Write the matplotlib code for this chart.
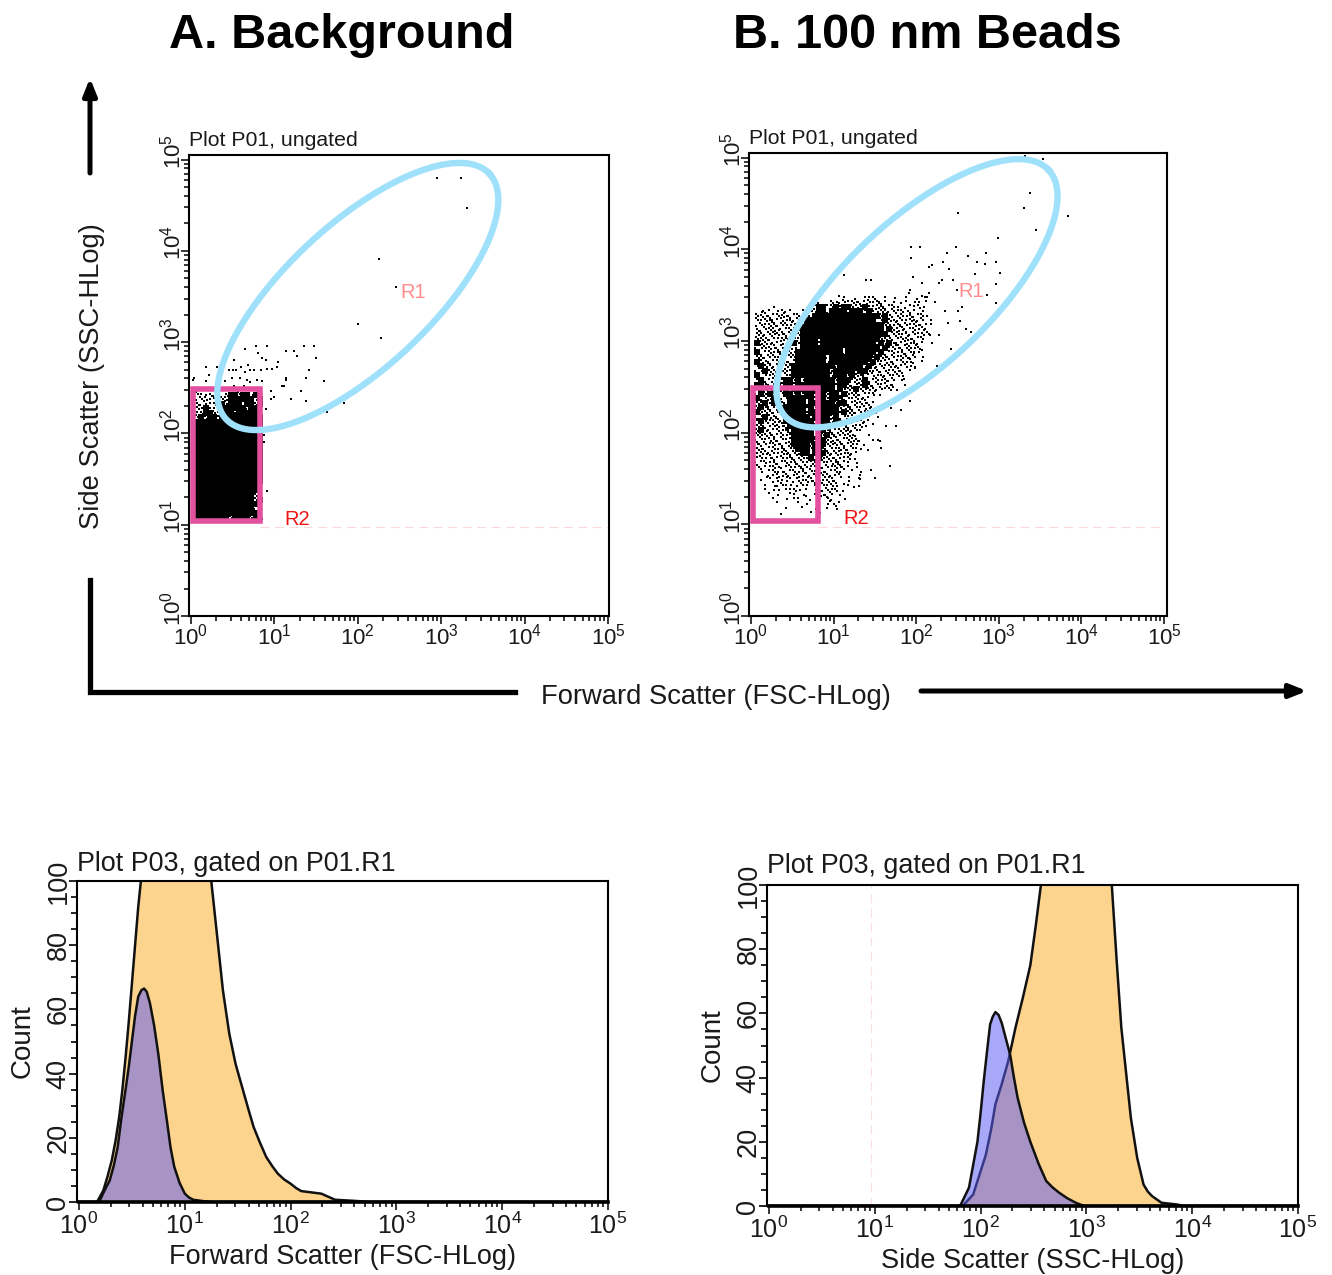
import numpy as np
import matplotlib
matplotlib.use('Agg')
import matplotlib.pyplot as plt
from matplotlib.ticker import LogLocator, NullFormatter, MultipleLocator
from matplotlib.patches import Rectangle
from matplotlib.transforms import ScaledTranslation

plt.rcParams['font.family'] = ['Liberation Sans', 'DejaVu Sans']
plt.rcParams['mathtext.default'] = 'regular'

W, H = 1332, 1275
TEXT = '#1a1a1a'

decades = [1, 10, 100, 1000, 10000, 100000]
decade_labels = ['10$^{0}$', '10$^{1}$', '10$^{2}$', '10$^{3}$', '10$^{4}$', '10$^{5}$']
count_ticks = [0, 20, 40, 60, 80, 100]

# sparse events, log10(FSC) / log10(SSC)
bg_fsc = [2.95, 3.24, 3.31, 2.26, 2.46, 2.00, 2.28, 1.84, 1.63, 1.60, 1.50, 1.48, 1.35, 1.24, 1.27, 1.14,
          0.91, 0.78, 0.65, 0.80, 0.85, 0.90, 1.04, 1.03, 0.97, 0.91, 0.52, 0.31, 0.18, 0.21, 0.45, 0.50,
          0.60, 0.68, 0.54, 0.65, 0.71, 0.76, 0.84, 1.42, 1.38, 1.14, 1.14, 1.09, 1.12, 1.32, 1.20, 1.38,
          0.96, 0.99, 0.96, 0.90, 0.88, 0.88, 0.91, 0.02, 0.03, 0.18, 0.33, 0.41, 0.49, 0.59, 0.67, 0.71,
          0.79, 0.85, 0.51, 0.63]
bg_ssc = [4.80, 4.80, 4.47, 3.91, 3.60, 3.20, 3.04, 2.33, 2.24, 2.57, 2.83, 2.96, 2.96, 2.90, 2.85, 2.90,
          2.96, 2.96, 2.93, 2.88, 2.83, 2.80, 2.78, 2.73, 2.71, 2.71, 2.80, 2.73, 2.73, 2.64, 2.70, 2.70,
          2.73, 2.75, 2.69, 2.67, 2.70, 2.69, 2.70, 2.70, 2.61, 2.61, 2.59, 2.52, 2.52, 2.47, 2.38, 2.36,
          2.47, 2.40, 2.38, 2.27, 1.98, 1.91, 1.37, 2.59, 2.61, 2.57, 2.64, 2.57, 2.61, 2.61, 2.59, 2.56,
          2.59, 2.57, 2.52, 2.52]

beads_fsc = [3.32, 3.53, 3.38, 3.30, 3.84, 2.50, 3.45, 2.99, 1.94, 2.04, 2.48, 2.37, 2.63, 2.84, 1.94, 2.32,
             2.15, 2.19, 2.73, 2.83, 2.96, 2.40, 2.71, 3.02, 1.13, 1.96, 1.39, 1.45, 2.31, 2.45, 2.96, 2.49,
             2.86, 2.97, 2.27, 1.91, 1.93, 2.07, 2.11, 2.23, 2.15, 2.35, 2.51, 2.55, 2.39, 2.53, 2.60, 2.66,
             2.15, 2.27, 2.19, 2.42, 2.07, 1.97, 1.93, 2.07, 1.99, 2.25, 1.85, 1.87, 1.93, 1.81, 1.75, 1.63,
             1.57, 1.68, 1.45, 1.50, 1.31, 1.25]
beads_ssc = [5.02, 4.99, 4.61, 4.45, 4.36, 4.40, 4.21, 4.12, 4.03, 4.03, 4.03, 3.96, 3.93, 3.96, 3.91, 3.86,
             3.81, 3.83, 3.86, 3.84, 3.86, 3.79, 3.73, 3.74, 3.72, 3.70, 3.67, 3.67, 3.67, 3.67, 3.62, 3.56,
             3.50, 3.41, 3.63, 3.52, 3.56, 3.63, 3.48, 3.43, 3.52, 3.33, 3.33, 3.37, 3.20, 3.22, 3.13, 3.10,
             3.08, 3.07, 2.98, 2.91, 2.90, 2.87, 2.80, 2.78, 2.70, 2.73, 2.59, 2.52, 2.35, 2.25, 2.07, 2.07,
             1.83, 1.64, 1.59, 1.50, 1.50, 1.41]

# dense part read as an occupancy map, 0.05 decade cells: # full  : two events  . one event
bg_rows_top = 2.45
bg_rows = [
    " :..:.: :##:##.#:",
    " .::.: ::######.#",
    " :.:.:.#:###:##:#",
    " ::#:.:######.##:",
    " .:##:.###:#####.",
    " :#:##.##########",
    " ################",
    " ################",
    " ################",
    " ################",
    " ################",
    " ################",
    " ################",
    " ################",
    " ################",
    " ################",
    " ################",
    " ################",
    " ################",
    " ################",
    " ###############:",
    " ###############.",
    " ##############:.",
    " ##############:#",
    " ###############:",
    " ##############::",
    " ###############:",
    " ########:####:#:",
]

beads_rows_top = 3.50
beads_rows = [
    "                     ..  . ..:  . .  .  ... ",
    "                .  :..:.:.:.:.::. . .. .. . ",
    "     .        .:##.:#:##:::#:.:::.:. ...:.  ",
    "  .:. .:..  :.::##:####:###:#::::.:.: :. .  ",
    " ::.:.::.:.:.::################:#:.::.:..:.  ",
    " :.:::.:.:.::#################::#::.:.::.: . ",
    " .:.::.::.:.:###################::.:::.:.:.. ",
    " :.:::.:.::.####################:#::.:.:..:  ",
    " ::.:::.::.:#####################:::.:.:.: . ",
    " :::.:.::::.####.##############:::.:::.:.:  ",
    " #::.:.:.:#:####.#############:#:#::.:.:..   ",
    " ::::.::.:.:##########.########:#.:.:::.:    ",
    " #:.:.::.:.###########.#######:#:.:.:.:..    ",
    " ::.::.:.::#######.##########:#:.::.::.: .   ",
    " #:::.::.:.#######.#########:#:.:.:.:...     ",
    " :#::.:.::##########.######:#:.:.:.:.:..     ",
    " ::#::.:::#########.#####:##:.:.:.:.: .      ",
    " #::.::::.#########:###:#:::.:.:.:.:.        ",
    " :#:.:::##:#.#######:###.::#:.:.:.: .        ",
    " ##:::#:##.#########:##:.::#:.:.:.:          ",
    " :#:::::#:######.###:#:::#::::.:.: .         ",
    " :#:#:.:##:#:##:##:##:#:::.:.: .            ",
    " #:::#:.:####:#:##:##:::.:.:.               ",
    " ::#:#:::####:##:###:##:.::.:.              ",
    " :#:::.:#####:#:#####:::::.:.:   .          ",
    " #:::.::#####.#######:#::.:.:..             ",
    " ::#::::.#####:####:#::.:.:.. .             ",
    " :#:.:.:#######:###:#::::.:..               ",
    " ::::::.:######:###::.:::.:. .  .           ",
    " :#.:.:.::#####:##::.:::.:.                 ",
    " :::.:.:.:#####:#:#:::::..  .               ",
    " ::.::.:.:#####:##::.:.:::.  ...            ",
    " .::.:.:.:####:#:#:::.:.:. .                ",
    " :.:.:.:::.###:##:::.::.:.. .               ",
    " .:.::.:.:::##:###:.::.:..                  ",
    " .:..:.:.::::.#:#::.::.: .                  ",
    " :.:.:..:.:.:.::.:.:::.. .                  ",
    "  :..:...:.:::.::.:.:.:. .                  ",
    "  . .:..:.:.:.:.:.:.:.  . .                 ",
    "   .:.:..:.:..::.:.:.: .  .                 ",
    "  .  .:.. .:.:.::.:.:  .  .                 ",
    "   . ..:.. .:. :.:.:. ..  .                 ",
    "   . .. ..:. . .:.:.: .                     ",
    "    . .  .. .. .:.:: .                      ",
    "     .  . ..  . . :.  .                     ",
    "      .    . .  . . :.                      ",
    "        .   .  .. . .                       ",
    "       .      . .                           ",
]

# histograms, log10(x) / count (values above 100 run off the top of the plot)
fsc_orange_x = [0, 0.17, 0.23, 0.27, 0.31, 0.345, 0.38, 0.41, 0.44, 0.47, 0.50, 0.53, 0.56, 0.585, 0.70, 1.10,
                1.25, 1.31, 1.36, 1.42, 1.48, 1.54, 1.60, 1.65, 1.71, 1.77, 1.83, 1.88, 1.94, 2.00, 2.05, 2.10,
                2.29, 2.42, 2.63, 2.73, 5]
fsc_orange_y = [0, 0, 3.6, 8, 13, 19, 26.5, 35, 45, 56, 68, 80, 92, 100, 125, 125,
                100, 81.5, 66, 52.5, 43, 36, 29, 23.4, 18.5, 14, 11, 8.8, 7, 5.7, 4.4, 3.4,
                2.6, 0.7, 0.3, 0, 0]
fsc_blue_x = [0, 0.19, 0.24, 0.29, 0.33, 0.365, 0.40, 0.44, 0.47, 0.50, 0.53, 0.56, 0.59, 0.615, 0.64, 0.67,
              0.71, 0.75, 0.79, 0.83, 0.865, 0.90, 0.95, 1.00, 1.04, 1.08, 1.19, 1.27, 5]
fsc_blue_y = [0, 0, 3.5, 6.7, 11.5, 17, 26, 35, 42, 50, 58, 64, 66, 66.5, 65.5, 62,
              55, 46, 35, 25.5, 17, 11, 6, 2.6, 1.4, 0.7, 0.2, 0, 0]

ssc_orange_x = [0, 1.83, 1.93, 2.05, 2.10, 2.14, 2.20, 2.26, 2.33, 2.40, 2.47, 2.52, 2.57, 2.70, 3.10, 3.24,
                3.285, 3.33, 3.38, 3.42, 3.48, 3.54, 3.58, 3.62, 3.71, 3.85, 3.93, 5]
ssc_orange_y = [0, 0, 3.6, 16, 24, 31.7, 38, 45, 55.6, 65, 75, 87, 100, 125, 125, 100,
                77, 55.6, 40, 27.5, 15, 6.7, 4.5, 3.1, 1, 0.5, 0, 0]
ssc_blue_x = [0, 1.806, 1.89, 1.97, 2.00, 2.03, 2.06, 2.09, 2.115, 2.14, 2.17, 2.20, 2.24, 2.28, 2.315, 2.35,
              2.41, 2.47, 2.55, 2.62, 2.68, 2.74, 2.82, 2.90, 2.98, 5]
ssc_blue_y = [0, 0, 5.7, 20, 29, 39, 48, 56.6, 59, 60.4, 59.5, 57, 52, 47, 40, 33.7,
              26, 20, 13, 7.8, 5.8, 4.2, 2.4, 1, 0, 0]


def px_axes(fig, left, top, right, bottom):
    return fig.add_axes([left / W, 1 - bottom / H, (right - left) / W, (bottom - top) / H])


def setup_log_x(ax, lo, hi, size):
    ax.set_xscale('log')
    ax.set_xticks(decades)
    ax.set_xticklabels(decade_labels, fontsize=size, color=TEXT)
    ax.xaxis.set_minor_locator(LogLocator(base=10, subs=np.arange(2, 10), numticks=20))
    ax.xaxis.set_minor_formatter(NullFormatter())
    ax.set_xlim(10 ** lo, 10 ** hi)
    ax.tick_params(axis='x', which='major', length=5.5, width=1.1, pad=0)
    ax.tick_params(axis='x', which='minor', length=3.5, width=1.1)


def style_spines(ax):
    for s in ax.spines.values():
        s.set_linewidth(1.5)


def raise_y_labels(ax, fig, px):
    # the rotated labels sit a little above their ticks
    offset = ScaledTranslation(0, px / 100, fig.dpi_scale_trans)
    for label in ax.get_yticklabels():
        label.set_transform(label.get_transform() + offset)


def plot_rows(ax, rows, top):
    full_x, full_y, dot_x, dot_y = [], [], [], []
    # small shift cycle so the cells do not read as a regular screen
    shift = [-0.012, 0.008, -0.004, 0.014, 0.0]
    for r, row in enumerate(rows):
        y = top - 0.025 - 0.05 * r
        for c, ch in enumerate(row):
            x = 0.025 + 0.05 * c
            sx = shift[(3 * r + 7 * c) % 5]
            sy = shift[(2 * r + 3 * c) % 5]
            if ch == '#':
                full_x.append(x)
                full_y.append(y)
            elif ch == ':':
                dot_x += [x - 0.012 + sx, x + 0.012 + sx]
                dot_y += [y + 0.012 + sy, y - 0.012 + sy]
            elif ch == '.':
                dot_x.append(x + sx)
                dot_y.append(y + sy)
    ax.scatter(10 ** np.array(full_x), 10 ** np.array(full_y), s=15, marker='s', c='k', lw=0, zorder=2)
    ax.scatter(10 ** np.array(dot_x), 10 ** np.array(dot_y), s=4.5, marker='s', c='k', lw=0, zorder=2)


def scatter_panel(ax, fsc, ssc, rows, rows_top, gate_c, gate_w, xlo, xhi, px_dec):
    setup_log_x(ax, xlo, xhi, 16)
    ax.set_yscale('log')
    ax.set_yticks(decades)
    ax.set_yticklabels(decade_labels, fontsize=16, rotation=90, va='center', color=TEXT)
    ax.yaxis.set_minor_locator(LogLocator(base=10, subs=np.arange(2, 10), numticks=20))
    ax.yaxis.set_minor_formatter(NullFormatter())
    ax.set_ylim(1, 10 ** 5.05)
    ax.tick_params(axis='y', which='major', length=5.5, width=1.1, pad=-3)
    ax.tick_params(axis='y', which='minor', length=3.5, width=1.1)
    style_spines(ax)
    raise_y_labels(ax, fig, 8)

    # threshold line
    ax.plot([10 ** gate_w, 10 ** 5], [10 ** 0.975] * 2, color='#fbd9d9', lw=0.8, dashes=(8, 5), zorder=1)

    plot_rows(ax, rows, rows_top)
    ax.scatter(10 ** np.array(fsc), 10 ** np.array(ssc), s=3.0, marker='s', c='k', lw=0, zorder=2)

    # R2 rectangle gate
    ax.add_patch(Rectangle((10 ** 0.025, 10 ** 1.04), 10 ** gate_w - 10 ** 0.025, 10 ** 2.49 - 10 ** 1.04,
                           fill=False, ec='#e2509f', lw=4.0, zorder=3, joinstyle='miter'))

    # R1 ellipse gate, sized in pixels then put on the decades of the axes
    t = np.linspace(0, 2 * np.pi, 300)
    a, b, theta = 180, 72, np.radians(43)
    ex = a * np.cos(t) * np.cos(theta) - b * np.sin(t) * np.sin(theta)
    ey = a * np.cos(t) * np.sin(theta) + b * np.sin(t) * np.cos(theta)
    ax.plot(10 ** (gate_c[0] + ex / px_dec), 10 ** (gate_c[1] + ey / 91.3), color='#9fe1fb', lw=4.6, zorder=4)

    ax.text(10 ** 2.67, 10 ** 3.54, 'R1', color='#ff8c8c', fontsize=14.5, ha='center', va='center', zorder=5)
    ax.text(10 ** 1.27, 10 ** 1.06, 'R2', color='#f01414', fontsize=14.5, ha='center', va='center', zorder=5)


def hist_panel(ax, orange_x, orange_y, blue_x, blue_y, xlabel, xlo, xhi):
    setup_log_x(ax, xlo, xhi, 18)
    ax.set_ylim(0, 100)
    ax.set_yticks(count_ticks)
    ax.set_yticklabels(count_ticks, fontsize=19.5, rotation=90, va='center', color=TEXT)
    ax.yaxis.set_minor_locator(MultipleLocator(5))
    ax.tick_params(axis='y', which='major', length=6, width=1.2, pad=-2)
    ax.tick_params(axis='y', which='minor', length=4, width=1.2)
    ax.tick_params(axis='x', which='major', pad=2)
    style_spines(ax)

    ox = 10 ** np.array(orange_x)
    bx = 10 ** np.array(blue_x)
    ax.fill_between(ox, 0, orange_y, color='#fcd48e', lw=0, zorder=1)
    ax.plot(ox, orange_y, color='#111111', lw=1.8, zorder=2)
    ax.fill_between(bx, 0, blue_y, color='#5c5cf5', alpha=0.53, lw=0, zorder=3)
    ax.plot(bx, blue_y, color='#111111', lw=1.8, zorder=4)
    ax.plot([1, 1e5], [0, 0], color='k', lw=2.6, clip_on=False, zorder=5)
    ax.set_xlabel(xlabel, fontsize=19.5, color=TEXT, labelpad=4)
    ax.set_ylabel('Count', fontsize=20, color=TEXT, labelpad=7)


fig = plt.figure(figsize=(W / 100, H / 100), dpi=100, facecolor='white')

ax_a = px_axes(fig, 189, 155, 609, 616)
scatter_panel(ax_a, bg_fsc, bg_ssc, bg_rows, bg_rows_top, (2.00, 3.50), 0.825, -0.024, 5.012, 83.4)

ax_b = px_axes(fig, 749, 153, 1167, 616)
scatter_panel(ax_b, beads_fsc, beads_ssc, beads_rows, beads_rows_top, (2.01, 3.52), 0.81, -0.024, 5.036, 82.6)

ax_c = px_axes(fig, 77, 881, 608, 1202)
hist_panel(ax_c, fsc_orange_x, fsc_orange_y, fsc_blue_x, fsc_blue_y, 'Forward Scatter (FSC-HLog)', -0.019, 5.0)

ax_d = px_axes(fig, 767, 885, 1298, 1206)
hist_panel(ax_d, ssc_orange_x, ssc_orange_y, ssc_blue_x, ssc_blue_y, 'Side Scatter (SSC-HLog)', -0.019, 5.0)
ax_d.axvline(10 ** 0.96, color='#fbdede', lw=0.8, dashes=(8, 5), zorder=0)

# page level titles, arrows and shared axis names, in pixels
page = fig.add_axes([0, 0, 1, 1], facecolor='none')
page.set_xlim(0, W)
page.set_ylim(H, 0)
page.axis('off')

page.text(342, 36, 'A. Background', fontsize=35, fontweight='bold', ha='center', va='center', color='k')
page.text(927, 35, 'B. 100 nm Beads', fontsize=35, fontweight='bold', ha='center', va='center', color='k')

page.text(189, 141, 'Plot P01, ungated', fontsize=15.3, ha='left', va='center', color=TEXT)
page.text(749, 139, 'Plot P01, ungated', fontsize=15.3, ha='left', va='center', color=TEXT)
page.text(77, 864, 'Plot P03, gated on P01.R1', fontsize=19.4, ha='left', va='center', color=TEXT)
page.text(767, 866, 'Plot P03, gated on P01.R1', fontsize=19.4, ha='left', va='center', color=TEXT)

page.text(92, 376, 'Side Scatter (SSC-HLog)', fontsize=19.7, rotation=90, ha='center', va='center', color=TEXT)
page.text(716, 697, 'Forward Scatter (FSC-HLog)', fontsize=19.7, ha='center', va='center', color=TEXT)

page.plot([90, 90, 515], [580, 692, 692], color='k', lw=3.8, solid_joinstyle='miter')
page.annotate('', xy=(90, 78), xytext=(90, 173),
              arrowprops=dict(arrowstyle='-|>,head_length=1.0,head_width=0.4', color='k', lw=3.6, shrinkA=0, shrinkB=0))
page.annotate('', xy=(1307, 691), xytext=(921, 691),
              arrowprops=dict(arrowstyle='-|>,head_length=1.0,head_width=0.4', color='k', lw=3.6, shrinkA=0, shrinkB=0))

fig.savefig('out.png', dpi=100)
